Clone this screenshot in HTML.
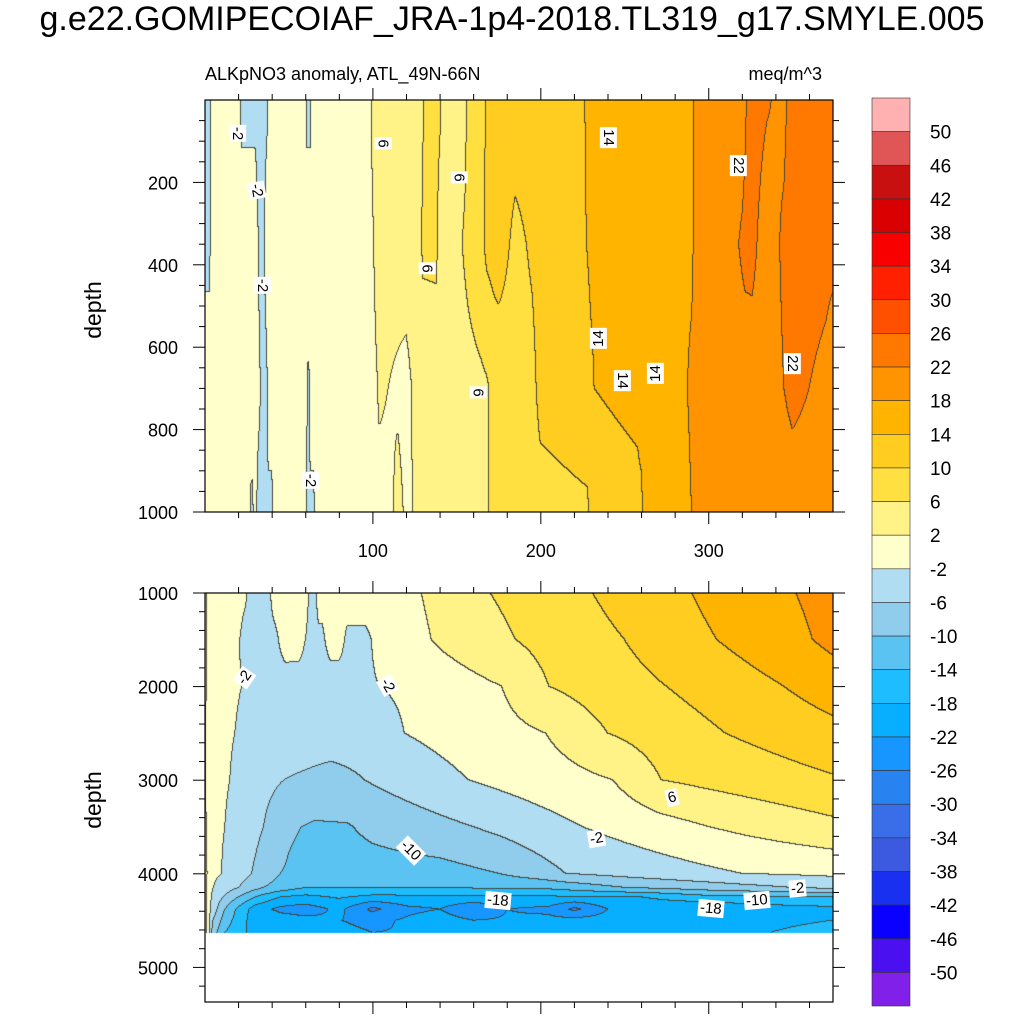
<!DOCTYPE html>
<html><head><meta charset="utf-8">
<style>
body{margin:0;background:#fff;width:1024px;height:1024px;overflow:hidden;position:relative;font-family:"Liberation Sans",sans-serif;}
.t{position:absolute;color:#000;white-space:nowrap;}
canvas{position:absolute;}
.lbl{position:absolute;background:#fff;font-size:15px;line-height:15px;padding:1px 2px;transform-origin:center;}
</style></head><body>
<div class="t" style="left:0;width:1024px;text-align:center;top:0px;font-size:34px;">g.e22.GOMIPECOIAF_JRA-1p4-2018.TL319_g17.SMYLE.005</div>
<div class="t" style="left:205px;top:64px;font-size:18px;">ALKpNO3 anomaly, ATL_49N-66N</div>
<div class="t" style="left:700px;width:122px;text-align:right;top:64px;font-size:18px;">meq/m^3</div>
<canvas id="c1" width="628" height="412" style="left:205px;top:100px"></canvas>
<canvas id="c2" width="628" height="409" style="left:205px;top:593px"></canvas>
<svg id="ax" width="1024" height="1024" style="position:absolute;left:0;top:0"></svg>
<div id="labels"></div>
<script>
// ---- data ----
const levels=[50,46,42,38,34,30,26,22,18,14,10,6,2,-2,-6,-10,-14,-18,-22,-26,-30,-34,-38,-42,-46,-50];
const colors=["#FFB0B0","#E05555","#C81010","#D80000","#F80000","#FF2000","#FF5000","#FF7800","#FF9400","#FFB400","#FFCC20","#FFE040","#FFF388","#FFFFCC","#B0DDF2","#90CDEC","#5AC3F2","#1EBDFF","#08AEFF","#1896FF","#2882F0","#3A6EE8","#3C5AE0","#1A30F0","#0A00FF","#4A10F0","#8020E8"];
const topDepths=[0,350,700,1000];
const topRows=[
[[0,-3],[3,-3],[4,0],[20,0],[22,-3],[37,-3],[39,0],[60,0],[61,-3],[63,-3],[64,0],[98,0],[100,3],[128,4],[132,7],[140,7],[142,4],[155,5],[157,7],[165,9],[170,11],[180,12],[200,12],[225,13],[228,15],[248,15],[250,17],[258,17],[260,15],[290,17],[292,19],[320,20],[324,23],[330,23],[345,21],[350,24],[374,24]],
[[0,-3],[3,-3],[4,0],[30,0],[33,-3],[35,-3],[37,0],[98,0],[102,3],[128,4],[130,7],[138,7],[140,4],[150,5],[157,7],[165,9],[168,11],[175,12],[185,9],[205,12],[225,13],[230,15],[255,16],[290,17],[292,19],[310,20],[322,23],[326,23],[335,20],[350,24],[374,23]],
[[0,0],[30,0],[35,-3],[37,-3],[38,0],[60,0],[62,-3],[63,0],[100,0.5],[104,2.5],[120,1],[125,2.5],[168,5.5],[172,7],[195,9],[200,11],[228,12],[232,14],[258,15],[262,17],[270,15],[285,17],[290,19],[322,20],[340,21],[350,23],[370,21],[374,20]],
[[0,1],[3,0],[26,-0.5],[28,-3],[30,-1],[32,-3],[40,-3],[42,0],[60,-1],[61,-3],[65,-3],[66,0],[110,1],[115,3],[120,1.5],[128,2.5],[168,5],[172,8],[228,9.5],[232,12],[260,13],[262,15],[288,17],[292,19],[320,19.5],[350,20],[374,20]]
];
const botDepths=[1000,1500,2000,2500,3000,3500,4000,4150,4250,4380,4500,4630];
const botRows=[
[[0,3],[3,0],[20,-1],[24,-1.5],[28,-3],[38,-3],[42,0],[60,0],[63,-3],[66,-3],[68,0],[100,0.5],[129,2],[150,4],[170,6],[200,8],[231,10],[260,12],[290,14],[320,16],[352,18],[374,19.5]],
[[0,3],[3,0],[18,-1],[24,-3],[42,-3],[48,0],[56,0],[62,-3],[70,-3],[75,0],[80,0],[85,-3],[96,-3],[106,0],[125,1],[140,2.5],[185,6],[215,8],[250,10],[280,12.5],[305,14],[350,17],[374,19]],
[[0,3],[3,0],[15,-1.5],[22,-2],[40,-4],[80,-4.5],[104,-2],[177,2],[205,6],[275,10],[345,14],[374,16]],
[[0,2.5],[3,0],[12,-1.5],[18,-2],[40,-4.5],[100,-5],[119,-2],[203,2],[240,6],[310,10],[374,12.8]],
[[0,2.5],[3,0],[10,-1.5],[15,-2],[30,-4.5],[47,-6],[75,-6.8],[95,-6],[157,-2],[243,2],[272,6],[374,9.6]],
[[0,3],[3,0],[8,-1.5],[12,-2],[35,-6],[50,-9.5],[65,-10.5],[85,-10.3],[100,-9],[160,-6],[225,-2],[300,2],[374,5]],
[[0,4],[3,0],[6,-1.5],[10,-2],[28,-6],[45,-10],[70,-12],[140,-11.5],[175,-10],[215,-6],[320,-2],[374,-1.2]],
[[0,5],[2,0],[5,-2],[20,-6],[35,-10],[60,-14],[200,-13.5],[250,-10],[300,-8],[374,-5]],
[[0,6],[2,0],[5,-3],[15,-8],[30,-14],[45,-18],[60,-19],[80,-17.5],[100,-19],[200,-18.5],[260,-18],[300,-15],[374,-14]],
[[0,6],[2,0],[5,-4],[12,-10],[20,-15],[30,-20],[45,-23],[60,-24],[80,-21],[100,-27],[120,-23],[140,-22],[160,-26],[180,-22],[205,-23],[220,-27],[240,-22],[265,-21],[300,-22],[330,-20],[374,-19]],
[[0,6],[2,0],[5,-6],[12,-12],[25,-18],[45,-20],[100,-23],[140,-20],[160,-22],[200,-21],[260,-20],[374,-18]],
[[0,6],[2,0],[5,-8],[12,-14],[25,-18],[60,-20],[100,-22],[200,-21],[300,-19],[374,-17]]
];
const xTicks=[100,200,300];
const topYTicks=[200,400,600,800,1000];
const botYTicks=[1000,2000,3000,4000,5000];
// ---- scales ----
const X0=205,X1=833,T1=374;
const xS=t=>X0+t/T1*(X1-X0);
const xInv=px=>(px-X0)/(X1-X0)*T1;
const yTop=d=>100+d*0.412;
const yBot=d=>593+(d-1000)*0.0936;
function rowVal(r,t){for(let i=1;i<r.length;i++){if(t<=r[i][0]){const a=r[i-1],b=r[i];return a[1]+(b[1]-a[1])*(t-a[0])/(b[0]-a[0]);}}return r[r.length-1][1];}
function field(depths,rows,t,d){
 if(d<=depths[0])return rowVal(rows[0],t);
 for(let i=1;i<depths.length;i++){if(d<=depths[i]){const f=(d-depths[i-1])/(depths[i]-depths[i-1]);return rowVal(rows[i-1],t)*(1-f)+rowVal(rows[i],t)*f;}}
 return null;}
function idx(v){let i=Math.floor((50-v)/4)+1;return Math.max(0,Math.min(26,i));}
function hex(c){return [parseInt(c.substr(1,2),16),parseInt(c.substr(3,2),16),parseInt(c.substr(5,2),16)];}
const rgb=colors.map(hex);
function paint(id,depths,rows,dOf){
 const cv=document.getElementById(id),ctx=cv.getContext('2d'),W=cv.width,H=cv.height;
 const img=ctx.createImageData(W,H),ix=new Int16Array(W*H);
 for(let y=0;y<H;y++){const d=dOf(y);for(let x=0;x<W;x++){const v=field(depths,rows,xInv(X0+x+0.5),d);ix[y*W+x]=v===null?-1:idx(v);}}
 for(let y=0;y<H;y++)for(let x=0;x<W;x++){const k=y*W+x,i=ix[k];let c;
  if(i<0)c=[255,255,255];else{const e=(x+1<W&&ix[k+1]>=0&&ix[k+1]!==i)||(y+1<H&&ix[k+W]>=0&&ix[k+W]!==i);c=e?[70,70,60]:rgb[i];}
  img.data[k*4]=c[0];img.data[k*4+1]=c[1];img.data[k*4+2]=c[2];img.data[k*4+3]=255;}
 ctx.putImageData(img,0,0);}
paint('c1',topDepths,topRows,y=>(y+0.5)/0.412);
paint('c2',botDepths,botRows,y=>1000+(y+0.5)/0.0936);
// ---- axes ----
const svg=document.getElementById('ax');const NS="http://www.w3.org/2000/svg";
function ln(x1,y1,x2,y2,w,name){const l=document.createElementNS(NS,'line');l.setAttribute('x1',x1);l.setAttribute('y1',y1);l.setAttribute('x2',x2);l.setAttribute('y2',y2);l.setAttribute('stroke','#000');l.setAttribute('stroke-width',w);


svg.appendChild(l);}
function tx(x,y,s,anchor,size,name,rot){const t=document.createElementNS(NS,'text');t.setAttribute('x',x);t.setAttribute('y',y);t.setAttribute('text-anchor',anchor);t.setAttribute('font-size',size);t.setAttribute('font-family','Liberation Sans, sans-serif');if(rot)t.setAttribute('transform','rotate('+rot+' '+x+' '+y+')');t.textContent=s;


svg.appendChild(t);}
function frame(y0,y1,name){const r=document.createElementNS(NS,'rect');r.setAttribute('x',X0);r.setAttribute('y',y0);r.setAttribute('width',X1-X0);r.setAttribute('height',y1-y0);r.setAttribute('fill','none');r.setAttribute('stroke','#000');r.setAttribute('stroke-width',1.2);


svg.appendChild(r);}
frame(100,512,'top-panel-frame');frame(593,1002,'bottom-panel-frame');
for(let t=20;t<T1;t+=20){const maj=t%100===0,L=maj?12:6,x=xS(t);
 ln(x,100,x,100-L,1,'x-tick');ln(x,512,x,512+L,1,'x-tick');ln(x,593,x,593-L,1,'x-tick');ln(x,1002,x,1002+L,1,'x-tick');}
xTicks.forEach(t=>tx(xS(t),557,String(t),'middle',18,'x-tick-label'));
for(let d=50;d<=1000;d+=50){const maj=d%200===0,L=maj?12:6,y=yTop(d);ln(X0,y,X0-L,y,1,'y-tick');ln(X1,y,X1+L,y,1,'y-tick');}
topYTicks.forEach(d=>tx(178,yTop(d)+7,String(d),'end',18,'y-tick-label'));
for(let d=1000;d<=5300;d+=200){const maj=d%1000===0,L=maj?12:6,y=yBot(d);ln(X0,y,X0-L,y,1,'y-tick');ln(X1,y,X1+L,y,1,'y-tick');}
botYTicks.forEach(d=>tx(178,yBot(d)+7,String(d),'end',18,'y-tick-label'));
tx(101,310,'depth','middle',23,'y-axis-title-top',-90);
tx(101,800,'depth','middle',23,'y-axis-title-bottom',-90);
// colorbar
const cbTop=98,cbH=33.63;
colors.forEach((c,i)=>{const r=document.createElementNS(NS,'rect');r.setAttribute('x',872);r.setAttribute('y',cbTop+i*cbH);r.setAttribute('width',38);r.setAttribute('height',cbH);r.setAttribute('fill',c);r.setAttribute('stroke','#333');r.setAttribute('stroke-width',0.6);


svg.appendChild(r);});
levels.forEach((v,i)=>tx(930,cbTop+(i+1)*cbH+7,String(v),'start',19,'colorbar-label'));
// contour labels
const labs=[[237,133,'-2',90],[256,190,'-2',80],[262,285,'-2',90],[310,480,'-2',90],[383,143,'6',90],[459,177,'6',90],[427,268,'6',90],[478,392,'6',90],[608,137,'14',90],[598,338,'14',-90],[622,380,'14',90],[655,373,'14',-90],[738,165,'22',90],[792,363,'22',90],
[244,677,'-2',-55],[387,685,'-2',60],[672,797,'6',-15],[596,838,'-2',-10],[411,850,'-10',45],[498,900,'-18',5],[711,908,'-18',5],[757,900,'-10',-5],[797,888,'-2',-5]];
const L=document.getElementById('labels');
labs.forEach(a=>{const d=document.createElement('div');d.className='lbl';d.textContent=a[2];


L.appendChild(d);const w=d.offsetWidth,h=d.offsetHeight;d.style.left=(a[0]-w/2)+'px';d.style.top=(a[1]-h/2)+'px';d.style.transform='rotate('+a[3]+'deg)';});
</script>
</body></html>
